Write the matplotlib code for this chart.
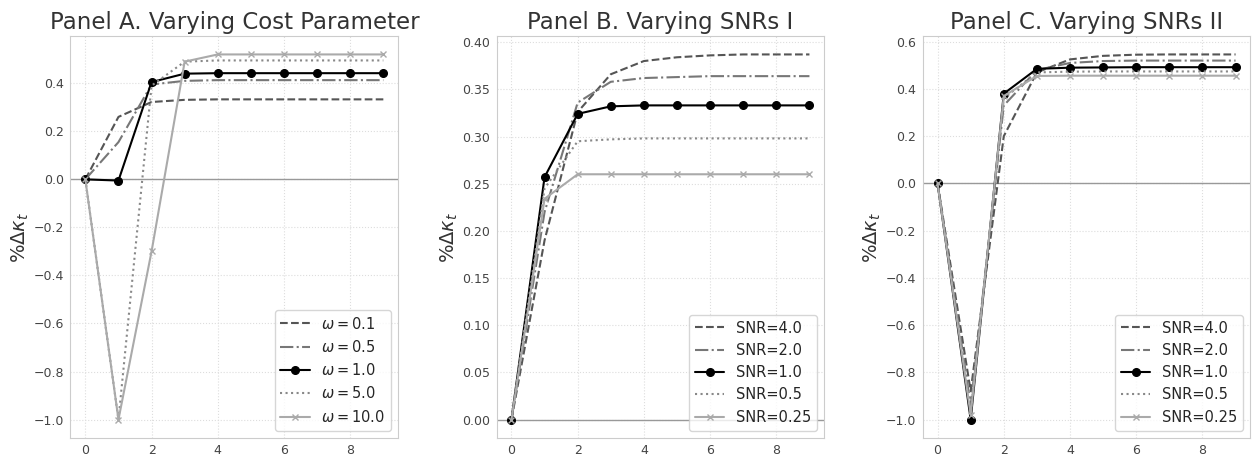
import matplotlib
matplotlib.use("Agg")
import matplotlib.pyplot as plt
import numpy as np
import seaborn as sns

t = np.arange(10)

# Panel A: varying cost parameter omega
omega_labels = [r"$\omega=0.1$", r"$\omega=0.5$", r"$\omega=1.0$", r"$\omega=5.0$", r"$\omega=10.0$"]
omega_01 = [0.0, 0.26, 0.322, 0.331, 0.333, 0.333, 0.333, 0.333, 0.333, 0.333]
omega_05 = [0.0, 0.155, 0.395, 0.410, 0.413, 0.413, 0.413, 0.413, 0.413, 0.413]
omega_1 = [0.0, -0.005, 0.405, 0.440, 0.442, 0.442, 0.442, 0.442, 0.442, 0.442]
omega_5 = [0.0, -1.0, 0.39, 0.490, 0.495, 0.495, 0.495, 0.495, 0.495, 0.495]
omega_10 = [0.0, -1.0, -0.30, 0.490, 0.520, 0.520, 0.520, 0.520, 0.520, 0.520]

# Panel B: varying SNRs I
snr_labels = ["SNR=4.0", "SNR=2.0", "SNR=1.0", "SNR=0.5", "SNR=0.25"]
b_snr4 = [0.0, 0.19, 0.326, 0.366, 0.380, 0.384, 0.386, 0.387, 0.387, 0.387]
b_snr2 = [0.0, 0.22, 0.336, 0.358, 0.362, 0.363, 0.364, 0.364, 0.364, 0.364]
b_snr1 = [0.0, 0.257, 0.324, 0.332, 0.333, 0.333, 0.333, 0.333, 0.333, 0.333]
b_snr05 = [0.0, 0.245, 0.295, 0.297, 0.298, 0.298, 0.298, 0.298, 0.298, 0.298]
b_snr025 = [0.0, 0.234, 0.260, 0.260, 0.260, 0.260, 0.260, 0.260, 0.260, 0.260]

# Panel C: varying SNRs II
c_snr4 = [0.0, -0.88, 0.20, 0.47, 0.525, 0.540, 0.545, 0.546, 0.546, 0.546]
c_snr2 = [0.0, -0.94, 0.33, 0.48, 0.510, 0.518, 0.520, 0.520, 0.520, 0.520]
c_snr1 = [0.0, -1.0, 0.38, 0.485, 0.490, 0.491, 0.492, 0.492, 0.492, 0.492]
c_snr05 = [0.0, -0.97, 0.36, 0.470, 0.473, 0.474, 0.474, 0.474, 0.474, 0.474]
c_snr025 = [0.0, -0.98, 0.37, 0.455, 0.456, 0.456, 0.456, 0.456, 0.456, 0.456]

titles = ["Panel A. Varying Cost Parameter", "Panel B. Varying SNRs I", "Panel C. Varying SNRs II"]

styles = [
    dict(color="#555555", linestyle="--", lw=1.5),
    dict(color="#777777", linestyle="-.", lw=1.5),
    dict(color="black", linestyle="-", lw=1.5, marker="o", markersize=5.5),
    dict(color="#888888", linestyle=":", lw=1.5),
    dict(color="#aaaaaa", linestyle="-", lw=1.5, marker="x", markersize=5),
]

sns.set_style("whitegrid", {"grid.linestyle": ":", "grid.color": "#dddddd",
                            "axes.edgecolor": "#cccccc"})
plt.rcParams["font.family"] = ["DejaVu Sans"]

fig, axes = plt.subplots(1, 3, figsize=(12.58, 4.58), dpi=100)
fig.subplots_adjust(left=0.056, right=0.994, top=0.921, bottom=0.044, wspace=0.3)

panels = [
    ([omega_01, omega_05, omega_1, omega_5, omega_10], omega_labels),
    ([b_snr4, b_snr2, b_snr1, b_snr05, b_snr025], snr_labels),
    ([c_snr4, c_snr2, c_snr1, c_snr05, c_snr025], snr_labels),
]

for ax, (series, labels), title in zip(axes, panels, titles):
    ax.axhline(0, color="#999999", lw=1.0, zorder=1)
    for y, lab, st in zip(series, labels, styles):
        ax.plot(t, y, label=lab, **st)
    ax.set_title(title, fontsize=16.5, color="#333333", pad=5)
    ax.set_ylabel(r"%$\Delta\kappa_t$", fontsize=14, color="#333333", labelpad=2)
    ax.tick_params(labelsize=9, colors="#444444", pad=1)
    ax.set_xticks([0, 2, 4, 6, 8])
    ax.legend(loc="lower right", fontsize=10.5, frameon=True)

plt.savefig("out.png")
